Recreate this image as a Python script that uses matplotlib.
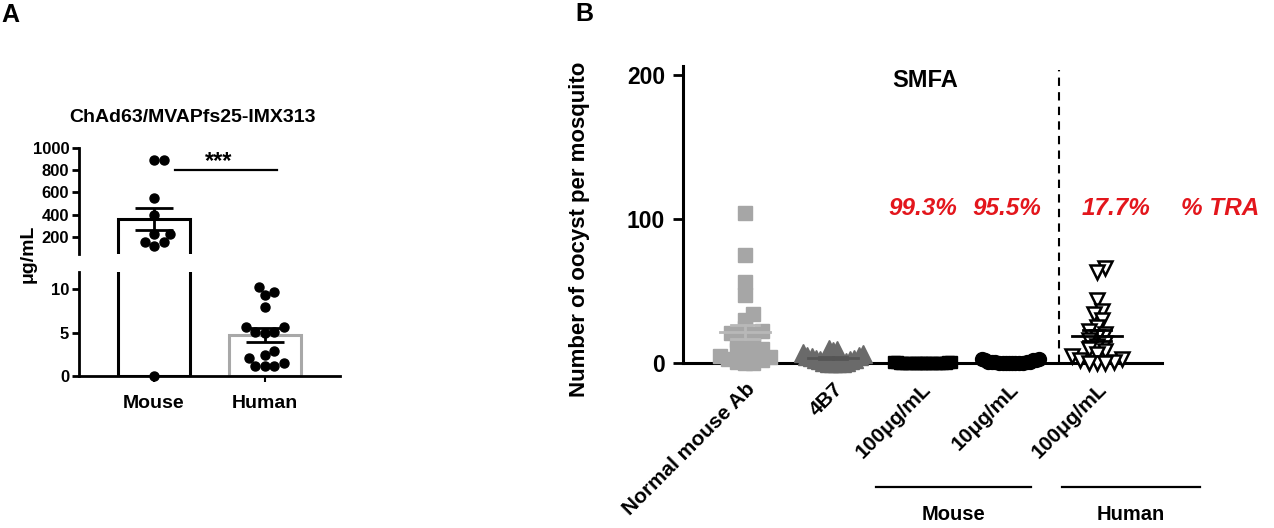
import numpy as np
import matplotlib
matplotlib.use("Agg")
import matplotlib.pyplot as plt
from matplotlib.transforms import blended_transform_factory

plt.rcParams['font.family'] = ['Liberation Sans', 'DejaVu Sans']
plt.rcParams['font.weight'] = 'bold'

# ---- data, panel A (antibody concentration, ug/mL)
groups_a = ["Mouse", "Human"]
mouse_conc = [890, 890, 550, 400, 225, 155, 120, 155, 225, 0]
human_conc = [10.3, 9.7, 9.4, 8.0, 5.7, 5.6, 5.1, 5.1, 5.0, 2.9, 2.4, 2.1, 1.5, 1.2, 1.1, 1.1]
title_a = "ChAd63/MVAPfs25-IMX313"

# ---- data, panel B (oocysts per mosquito)
groups_b = ["Normal mouse Ab", "4B7", "100μg/mL", "10μg/mL", "100μg/mL"]
normal_ab = [104, 75, 56, 47, 34, 30, 24, 22, 21, 20, 18, 16, 14, 12, 10, 9, 8, 6, 5, 4, 3, 2, 1, 0, 0]
ab_4b7 = [10, 9, 8, 7, 6, 5, 4, 3, 2, 2, 1, 1, 0, 0, 0, 3, 5, 0]
mouse_100 = [1, 0, 0, 1, 0, 0, 0, 1, 0, 0, 0, 0, 0, 0, 1, 0, 0, 0, 0, 0]
mouse_10 = [3, 2, 2, 1, 1, 0, 0, 0, 1, 0, 2, 3, 0, 1, 0, 0, 0, 1]
human_100 = [66, 63, 44, 36, 34, 30, 25, 22, 20, 18, 16, 14, 12, 10, 8, 6, 5, 3, 2, 1, 0, 0, 0]
tra_text = ["99.3%", "95.5%", "17.7%", "% TRA"]

W, H = 1274, 528
fig = plt.figure(figsize=(W / 100, H / 100), dpi=100)


def box(l, t, r, b):
    return [l / W, 1 - b / H, (r - l) / W, (b - t) / H]


def swarm(vals, xscale, yscale, d, maxw=None):
    # simple beeswarm in pixel space, returns x offsets in data units
    vals = np.asarray(vals, float)
    order = np.argsort(vals, kind='stable')
    cands = [0.0]
    for j in range(1, 400):
        cands += [j * d / 3, -j * d / 3]
    placed = []
    offs = np.zeros(len(vals))
    for i in order:
        y = vals[i] * yscale
        for c in cands:
            if all((c - px) ** 2 + (y - py) ** 2 >= d * d for px, py in placed):
                break
        placed.append((c, y))
        offs[i] = c
    if maxw is not None and np.abs(offs).max() > maxw:
        offs = offs * maxw / np.abs(offs).max()
    return offs / xscale


def sem(v):
    v = np.asarray(v, float)
    return v.std(ddof=1) / np.sqrt(len(v))


# ================= panel A =================
axU = fig.add_axes(box(79, 148, 340, 254))
axL = fig.add_axes(box(79, 272, 340, 376))
xpx = 111.0
for ax in (axU, axL):
    ax.set_xlim(-0.676, 1.676)
    for s in ('top', 'right'):
        ax.spines[s].set_visible(False)
    ax.spines['left'].set_linewidth(2)
    ax.tick_params(axis='y', length=5, width=2, labelsize=12, pad=2)
axU.spines['bottom'].set_visible(False)
axU.set_xticks([])
axU.set_ylim(46, 1000)
axU.set_yticks([200, 400, 600, 800, 1000])
axL.set_ylim(0, 12)
axL.set_yticks([0, 5, 10])
axL.spines['bottom'].set_linewidth(2)
axL.set_xticks([0, 1])
axL.set_xticklabels(groups_a, fontsize=14)
axL.tick_params(axis='x', length=4, width=1.5, pad=10)

m_mean, m_sem = np.mean(mouse_conc), sem(mouse_conc)
h_mean, h_sem = np.mean(human_conc), sem(human_conc)

for ax in (axU, axL):
    ax.bar(0, m_mean, width=0.65, fill=False, edgecolor='black', linewidth=2.2)
axL.bar(1, h_mean, width=0.65, fill=False, edgecolor='#a8a8a8', linewidth=2.2)

mc = np.array(mouse_conc, float)
up = mc[mc > 46]
lo = mc[mc <= 12]
axU.plot(swarm(up, xpx, 106 / 954, 9.5), up, 'o', color='black', ms=6.5, clip_on=False, zorder=3)
axL.plot(swarm(lo, xpx, 104 / 12, 9.5), lo, 'o', color='black', ms=6.5, clip_on=False, zorder=3)
axL.plot(1 + swarm(human_conc, xpx, 104 / 12, 9.5), human_conc, 'o', color='black', ms=6.5,
         clip_on=False, zorder=3)

axU.errorbar(0, m_mean, yerr=m_sem, color='black', lw=2, capsize=14, capthick=2, zorder=4)
axL.errorbar(1, h_mean, yerr=h_sem, color='black', lw=2, capsize=14, capthick=2, zorder=4)

# significance bar
axU.plot([0.19, 1.11], [802, 802], color='black', lw=1.6, clip_on=False)
axU.text(0.585, 880, "***", ha='center', va='center', fontsize=17)

fig.text(193 / W, 1 - 117 / H, title_a, ha='center', va='center', fontsize=14)
fig.text(28 / W, 1 - 254 / H, "μg/mL", rotation=90, ha='center', va='center', fontsize=14)
fig.text(1 / W, 1 - 15 / H, "A", ha='left', va='center', fontsize=18)

# ================= panel B =================
axB = fig.add_axes(box(683, 66, 1162, 363))
bx, by = 88.0, 297 / 206
axB.set_xlim(-0.705, 4.74)
axB.set_ylim(0, 206)
for s in ('top', 'right'):
    axB.spines[s].set_visible(False)
axB.spines['left'].set_linewidth(2.2)
axB.spines['bottom'].set_linewidth(2.2)
axB.set_yticks([0, 100, 200])
axB.tick_params(axis='y', length=7, width=2, labelsize=16.5, pad=6)
axB.set_xticks(range(len(groups_b)))
axB.set_xticklabels(groups_b, rotation=45, ha='right', va='top', rotation_mode='anchor', fontsize=15)
axB.tick_params(axis='x', length=3, width=1.5, pad=9)

series = [normal_ab, ab_4b7, mouse_100, mouse_10, human_100]
styles = [
    dict(marker='s', color='#a6a6a6', ms=10, mec='#a6a6a6'),
    dict(marker='^', color='#6a6a6a', ms=13, mec='#6a6a6a'),
    dict(marker='s', color='black', ms=8, mec='black'),
    dict(marker='o', color='black', ms=10, mec='black'),
    dict(marker='v', color='white', ms=10, mec='black', mew=1.8),
]
line_cols = ['#b8b8b8', '#555555', 'black', 'black', 'black']
for i, (vals, st) in enumerate(zip(series, styles)):
    ms_px = st['ms'] * 100 / 72
    xs = i + swarm(vals, bx, by, ms_px * 0.6, maxw=30)
    axB.plot(xs, vals, linestyle='none', clip_on=False, zorder=3, **st)
    mu, se = np.mean(vals), sem(vals)
    c = line_cols[i]
    axB.plot([i - 0.28, i + 0.28], [mu, mu], color=c, lw=2, zorder=4, clip_on=False)
    axB.plot([i - 0.16, i + 0.16], [mu + se, mu + se], color=c, lw=2, zorder=4, clip_on=False)
    axB.plot([i - 0.16, i + 0.16], [mu - se, mu - se], color=c, lw=2, zorder=4, clip_on=False)
    axB.plot([i, i], [mu - se, mu + se], color=c, lw=2, zorder=4, clip_on=False)

axB.axvline(3.568, ymin=0, ymax=0.986, color='black', lw=1.5, linestyle=(0, (4, 3)))
axB.text(2.045, 196, "SMFA", ha='center', va='center', fontsize=17)
for x, t in zip([2.02, 2.98, 4.215, 5.4], tra_text):
    axB.text(x, 107, t, ha='center', va='center', color='#e3161c', style='italic',
             fontsize=17.5, clip_on=False)

tr = blended_transform_factory(axB.transData, axB.transAxes)
axB.plot([1.488, 3.25], [-0.4175, -0.4175], color='black', lw=1.6, transform=tr, clip_on=False)
axB.plot([3.60, 5.17], [-0.4175, -0.4175], color='black', lw=1.6, transform=tr, clip_on=False)
axB.text(2.37, -0.51, "Mouse", transform=tr, ha='center', va='center', fontsize=14.5)
axB.text(4.38, -0.51, "Human", transform=tr, ha='center', va='center', fontsize=14.5)

fig.text(580 / W, 1 - 229 / H, "Number of oocyst per mosquito", rotation=90,
         ha='center', va='center', fontsize=16)
fig.text(575 / W, 1 - 14 / H, "B", ha='left', va='center', fontsize=18)

fig.savefig("out.png", dpi=100)
